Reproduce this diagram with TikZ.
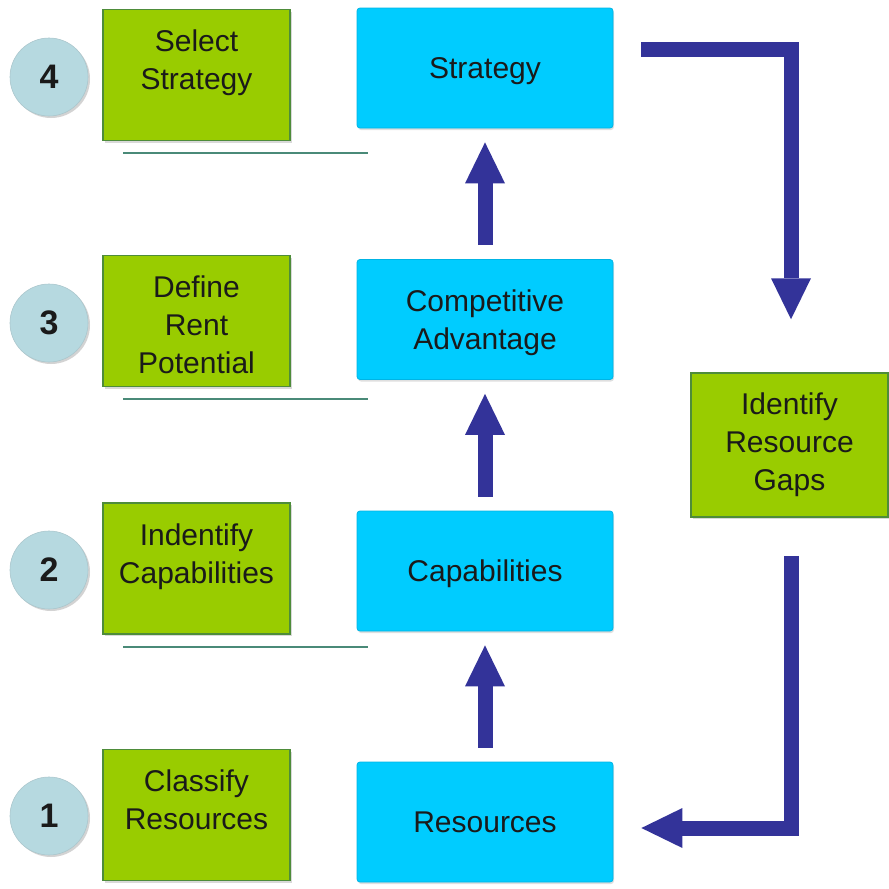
\documentclass[tikz,border=0pt]{standalone}
\usepackage{fontspec}
\setmainfont{Liberation Sans}
\usetikzlibrary{arrows.meta,shadows,calc}
\definecolor{gfill}{HTML}{99CC00}
\definecolor{gdraw}{HTML}{4E8C3A}
\definecolor{bfill}{HTML}{00CCFF}
\definecolor{bdraw}{HTML}{00B4E4}
\definecolor{arr}{HTML}{333399}
\definecolor{seprule}{HTML}{4A8A78}
\definecolor{cfill}{HTML}{B6D9E0}
\definecolor{txt}{HTML}{1A1A1A}
\begin{document}
\begin{tikzpicture}[x=1pt,y=-1pt,
  font=\fontsize{30}{38}\selectfont, text=txt,
  gbox/.style={draw=gdraw, line width=1.5pt, fill=gfill, minimum width=187pt,
    minimum height=131pt, inner sep=0pt,
    drop shadow={shadow xshift=2pt,shadow yshift=-2pt,opacity=0.3}},
  gtext/.style={anchor=north, yshift=-21pt, inner sep=0pt, align=center, text=txt},
  ctext/.style={anchor=center, inner sep=0pt, align=center, text=txt},
  bbox/.style={draw=bdraw, line width=0.8pt, fill=bfill, rounded corners=3pt,
    minimum width=256pt, minimum height=120pt, inner sep=0pt, align=center,
    drop shadow={shadow xshift=1pt,shadow yshift=-2pt,opacity=0.25}},
  oneline/.style={text height=21.5pt, text depth=0pt},
  numc/.style={circle, fill=cfill, draw=cfill!80!gray, line width=0.6pt,
    minimum size=78pt, inner sep=0pt, font=\fontsize{34}{38}\selectfont\bfseries,
    drop shadow={shadow xshift=2pt,shadow yshift=-2pt,opacity=0.35}},
  bigarrow/.style={draw=arr, line width=15pt, line join=miter,
    -{Triangle[width=40pt,length=41pt,line width=0pt]}},
  seprl/.style={draw=seprule, line width=1.6pt}
]
\useasboundingbox (0,0) rectangle (889,889);

% circles
\node[numc] (c4) at (49,77) {4};
\node[numc] (c3) at (49,323) {3};
\node[numc] (c2) at (49,570) {2};
\node[numc] (c1) at (49,816) {1};

% green task boxes
\node[gbox, label={[gtext]north:Select\\Strategy}] (g4) at (196.5,75) {};
\node[gbox, label={[gtext]north:Define\\Rent\\Potential}] (g3) at (196.5,321) {};
\node[gbox, label={[gtext]north:Indentify\\Capabilities}] (g2) at (196.5,568.5) {};
\node[gbox, label={[gtext]north:Classify\\Resources}] (g1) at (196.5,815) {};

% blue boxes
\node[bbox, oneline] (strat) at (485,68) {Strategy};
\node[bbox, label={[ctext, yshift=-3.5pt]center:Competitive\\Advantage}] (ca) at (485,319.5) {};
\node[bbox, oneline] (cap) at (485,571) {Capabilities};
\node[bbox, oneline] (res) at (485,822) {Resources};

% gaps box
\node[gbox, minimum width=197pt, minimum height=144pt, align=center] (gaps) at (789.5,445) {Identify\\Resource\\Gaps};

% separator rules
\draw[seprl] (123,153) -- (368,153);
\draw[seprl] (123,399) -- (368,399);
\draw[seprl] (123,647) -- (368,647);

% up arrows
\draw[bigarrow, shorten <=14pt, shorten >=14pt] (res.north) -- (cap.south);
\draw[bigarrow, shorten <=14pt, shorten >=14pt] (cap.north) -- (ca.south);
\draw[bigarrow, shorten <=14pt, shorten >=14pt] (ca.north) -- (strat.south);

% loop arrows
\coordinate (s1) at (641,49);
\draw[bigarrow, shorten >=53pt] (s1) -| ([xshift=1.5pt]gaps.north);
\draw[bigarrow, shorten <=38pt, shorten >=28pt] ([xshift=1.5pt]gaps.south) |- ($(res.east)+(0,6)$);
\end{tikzpicture}
\end{document}
